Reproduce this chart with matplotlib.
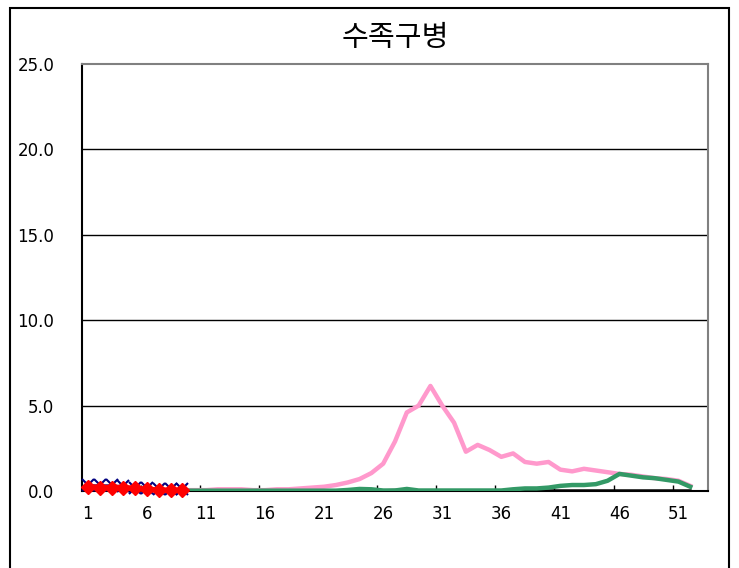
import matplotlib.pyplot as plt
from matplotlib.patches import Rectangle

plt.rcParams['font.family'] = ['DejaVu Sans', 'Noto Sans CJK KR']

weeks = list(range(1, 53))
weeks_now = list(range(1, 10))

# pink series (previous season, peak around week 30)
pink = [0.1, 0.1, 0.1, 0.1, 0.1, 0.05, 0.05, 0.05, 0.05, 0.05,
        0.05, 0.1, 0.1, 0.1, 0.05, 0.05, 0.1, 0.1, 0.15, 0.2,
        0.25, 0.35, 0.5, 0.7, 1.05, 1.6, 2.9, 4.6, 5.0, 6.15,
        5.0, 4.0, 2.3, 2.7, 2.4, 2.0, 2.2, 1.7, 1.6, 1.7,
        1.25, 1.15, 1.3, 1.2, 1.1, 1.0, 0.95, 0.85, 0.75, 0.7,
        0.6, 0.3]

# black series (mostly hidden under green)
black = [0.02] * 22 + [0.05, 0.1, 0.08, 0.03, 0.05, 0.03] + [0.02] * 24

# green series
green = [0.02] * 22 + [0.06, 0.12, 0.1, 0.03, 0.03, 0.12, 0.03, 0.03,
         0.03, 0.03, 0.03, 0.03, 0.03, 0.03, 0.1, 0.15, 0.15, 0.2,
         0.3, 0.35, 0.35, 0.4, 0.6, 1.0, 0.9, 0.8, 0.75, 0.65,
         0.55, 0.25]

# current year so far
blue = [0.35, 0.35, 0.35, 0.3, 0.2, 0.15, 0.1, 0.1, 0.1]
red = [0.25, 0.2, 0.2, 0.2, 0.15, 0.1, 0.05, 0.05, 0.05]

xtick_pos = [1, 6, 11, 16, 21, 26, 31, 36, 41, 46, 51]
ytick_pos = [0, 5, 10, 15, 20, 25]

fig = plt.figure(figsize=(7.39, 5.68), dpi=100)
ax = fig.add_axes([82 / 739, 1 - 491 / 568, (708 - 82) / 739, (491 - 64) / 568])

ax.plot(weeks, pink, color="#FF99CC", linewidth=3.2, zorder=3)
ax.plot(weeks, black, color="black", linewidth=2, zorder=3)
ax.plot(weeks, green, color="#339966", linewidth=3.2, zorder=4)
ax.plot(weeks_now, blue, color="#000080", linewidth=1, marker="x",
        markersize=8, markeredgewidth=1.5, zorder=5, clip_on=False)
ax.plot(weeks_now, red, color="#FF0000", linewidth=4, marker="D",
        markersize=7, zorder=6, clip_on=False)

# category boundaries between labelled weeks
boundaries = [x - 0.5 for x in xtick_pos[1:]]

ax.set_xticks(xtick_pos)
ax.set_xticklabels([str(v) for v in xtick_pos], fontsize=12)
ax.set_xticks(boundaries, minor=True)
ax.set_xlim(0.5, 53.5)
ax.set_ylim(0, 25)
ax.set_yticks(ytick_pos)
ax.set_yticklabels([f"{v:.1f}" for v in ytick_pos], fontsize=12)
ax.tick_params(axis="x", length=0, pad=10)
ax.tick_params(axis="y", length=0, pad=20)
ax.tick_params(axis="x", which="minor", direction="in", length=4, width=1)

for y in ytick_pos[1:-1]:
    ax.axhline(y, color="black", linewidth=1, zorder=1)

ax.spines["left"].set_color("black")
ax.spines["bottom"].set_color("black")
ax.spines["left"].set_linewidth(1.5)
ax.spines["bottom"].set_linewidth(1.5)
ax.spines["top"].set_color("#808080")
ax.spines["right"].set_color("#808080")
ax.spines["top"].set_linewidth(1.5)
ax.spines["right"].set_linewidth(1.5)

fig.text(395 / 739, 1 - 38 / 568, "수족구병", ha="center", va="center",
         fontsize=21, family=["Noto Sans CJK KR", "DejaVu Sans"])

frame = Rectangle((10 / 739, -0.1), (729 - 10) / 739, 1.1 - 8 / 568,
                  transform=fig.transFigure, fill=False, edgecolor="black",
                  linewidth=1.5, clip_on=False)
fig.patches.append(frame)

plt.savefig("out.png", dpi=100)
plt.close()
